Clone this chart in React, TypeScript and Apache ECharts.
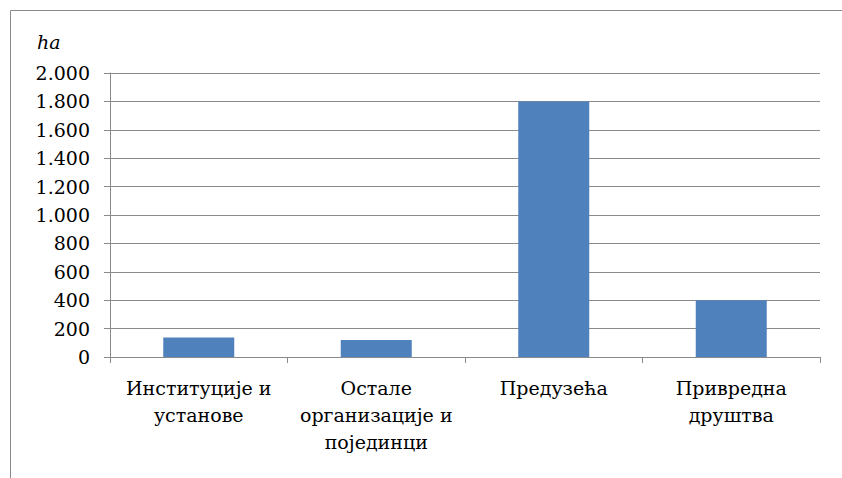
import React, { useEffect, useRef } from "react";
import * as echarts from "echarts";

const categories = ["Институције и\nустанове", "Остале\nорганизације и\nпојединци", "Предузећа", "Привредна\nдруштва"];
const values = [138, 120, 1800, 400];
const yMin = 0;
const yMax = 2000;
const yStep = 200;
const unitLabel = "ha";

export default function App() {
  const ref = useRef<HTMLDivElement>(null);
  useEffect(() => {
    document.body.style.margin = "0";
    const chart = echarts.init(ref.current!, null, { renderer: "svg" });
    const font = "DejaVu Serif";
    chart.setOption({
      animation: false,
      backgroundColor: "#ffffff",
      grid: { left: 110, right: 22, top: 73, bottom: 121 },
      graphic: [
        {
          type: "polyline",
          shape: { points: [[10.5, 478], [10.5, 10.5], [842, 10.5]] },
          style: { stroke: "#8a8a8a", lineWidth: 1, fill: "none" },
          silent: true,
        },
        {
          type: "text",
          left: 37,
          top: 32,
          style: { text: unitLabel, fontFamily: font, fontStyle: "italic", fontSize: 19, fill: "#000" },
        },
      ],
      xAxis: {
        type: "category",
        data: categories,
        axisLine: { lineStyle: { color: "#8a8a8a" } },
        axisTick: { show: true, length: 6, lineStyle: { color: "#8a8a8a" } },
        axisLabel: {
          fontFamily: font,
          fontSize: 19,
          color: "#000",
          lineHeight: 27,
          margin: 17,
          interval: 0,
        },
      },
      yAxis: {
        type: "value",
        min: yMin,
        max: yMax,
        interval: yStep,
        axisLine: { show: true, lineStyle: { color: "#8a8a8a" } },
        axisTick: { show: true, length: 6, lineStyle: { color: "#8a8a8a" } },
        splitLine: { lineStyle: { color: "#8a8a8a" } },
        axisLabel: {
          fontFamily: font,
          fontSize: 19,
          color: "#000",
          margin: 20,
          formatter: (v: number) => v.toLocaleString("de-DE"),
        },
      },
      series: [
        {
          type: "bar",
          data: values,
          barWidth: "40%",
          itemStyle: { color: "#4f81bd" },
        },
      ],
    });
    return () => chart.dispose();
  }, []);
  return <div ref={ref} style={{ width: 842, height: 478 }} />;
}
